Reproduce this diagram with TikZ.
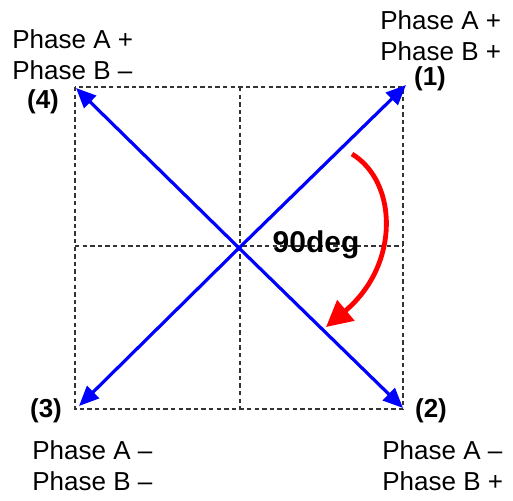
\documentclass[tikz,border=0pt]{standalone}
\usepackage{fontspec}
\setmainfont{Liberation Sans}
\usetikzlibrary{arrows.meta}

\tikzset{
  gridline/.style={black!80, line width=0.6pt, dash pattern=on 2.2pt off 1.6pt},
  vecarrow/.style={blue, line width=1.6pt, -{Triangle[length=10pt,width=8.5pt]}},
  rotarrow/.style={red, line width=2.4pt, -{Triangle[length=13pt,width=13pt]}},
  phaselabel/.style={inner sep=0pt, align=left, anchor=base west,
    font=\fontsize{13}{15.5}\selectfont},
  cornerlabel/.style={inner sep=0pt, font=\fontsize{13}{15.5}\selectfont\bfseries},
}

\begin{document}
\begin{tikzpicture}[x=0.5pt,y=-0.5pt]
    \useasboundingbox (0,0) rectangle (513,500);
    % dashed frame and axes
    \coordinate (nw) at (75,87);
    \coordinate (se) at (403,409);
    \coordinate (w) at (75,246);
    \coordinate (e) at (403,246);
    \coordinate (n) at (240,87);
    \coordinate (s) at (240,409);
    \draw[gridline] (nw) rectangle (se);
    \draw[gridline] (w) -- (e);
    \draw[gridline] (n) -- (s);
    % current vectors
    \coordinate (o) at (239,248);
    \coordinate (p1) at (406,85);
    \coordinate (p2) at (403,408);
    \coordinate (p3) at (79,406);
    \coordinate (p4) at (76,88);
    \draw[vecarrow] (o) -- (p1);
    \draw[vecarrow] (o) -- (p2);
    \draw[vecarrow] (o) -- (p3);
    \draw[vecarrow] (o) -- (p4);
    % rotation
    \coordinate (r0) at (352,154);
    \coordinate (r1) at (326,327);
    \draw[rotarrow] (r0) .. controls (398,182) and (400,265) .. (r1);
    \node[inner sep=0pt, font=\fontsize{15}{18}\selectfont\bfseries] (deg) at (316,245) {90deg};
    % step numbers
    \node[cornerlabel] (s1) at (430,79) {(1)};
    \node[cornerlabel] (s2) at (431,411) {(2)};
    \node[cornerlabel] (s3) at (46,411) {(3)};
    \node[cornerlabel] (s4) at (43,102) {(4)};
    % phase states
    \node[phaselabel] (ph1) at (380,60) {Phase A +\\Phase B +};
    \node[phaselabel] (ph2) at (382,490) {Phase A --\\Phase B +};
    \node[phaselabel] (ph3) at (32,490) {Phase A --\\Phase B --};
    \node[phaselabel] (ph4) at (12,79) {Phase A +\\Phase B --};
\end{tikzpicture}
\end{document}
